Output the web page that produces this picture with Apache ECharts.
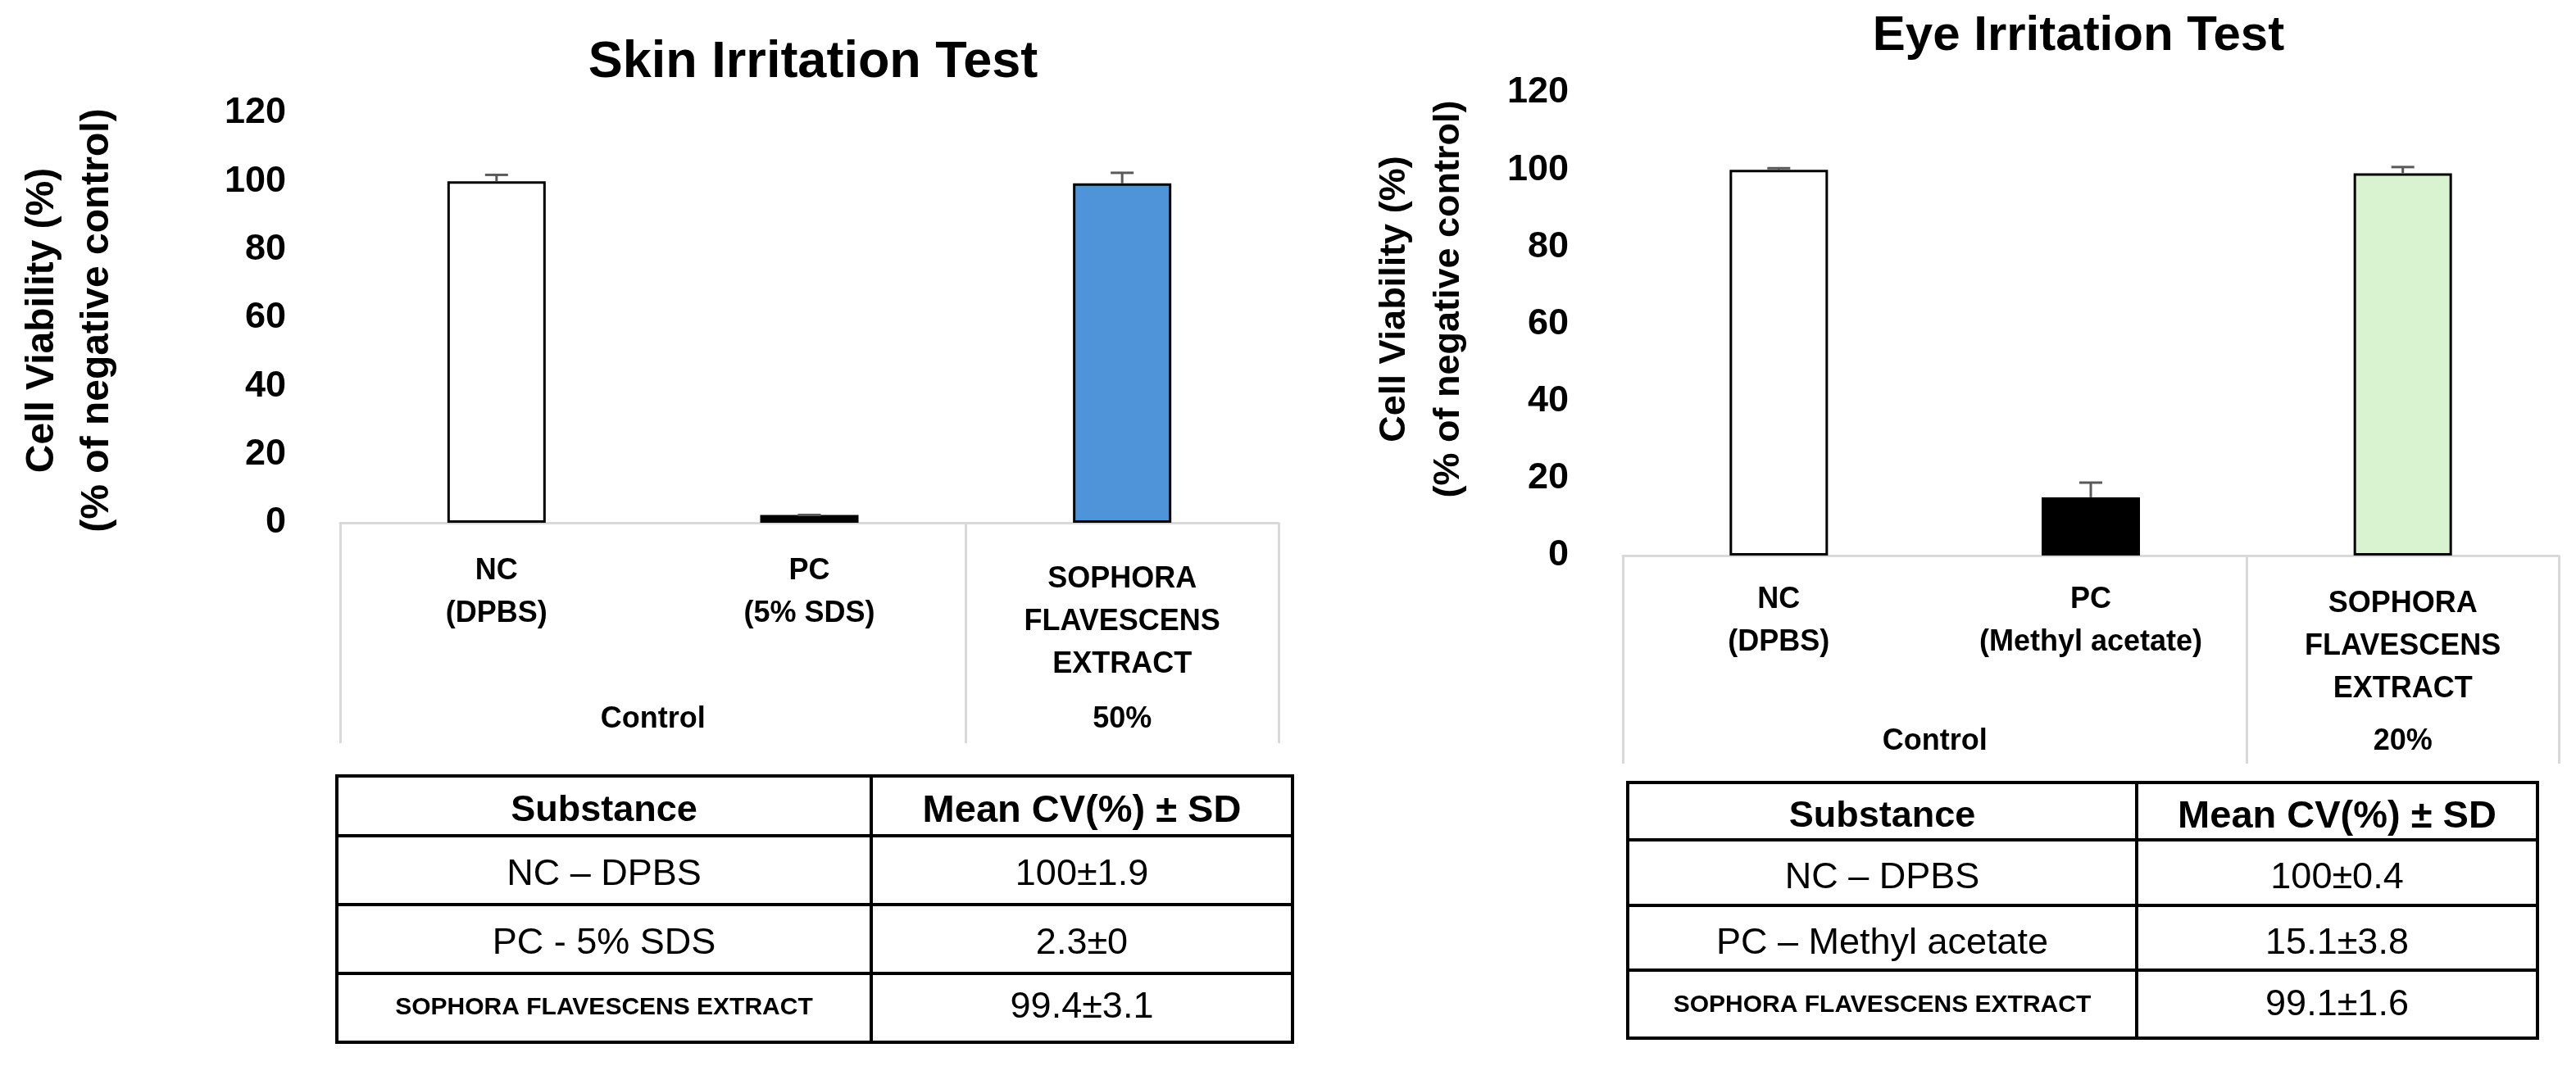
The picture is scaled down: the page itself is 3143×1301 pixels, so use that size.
<!DOCTYPE html>
<html>
<head>
<meta charset="utf-8">
<script src="https://cdn.jsdelivr.net/npm/echarts@6/dist/echarts.min.js"></script>
<style>html,body{margin:0;padding:0;background:#fff}#c{width:3143px;height:1301px}</style>
</head>
<body>
<div id="c"></div>
<script>
// ---------------- data ----------------
const skinTitle = 'Skin Irritation Test';
const eyeTitle = 'Eye Irritation Test';
const skinCategories = ['NC\n(DPBS)', 'PC\n(5% SDS)', 'SOPHORA\nFLAVESCENS\nEXTRACT'];
const eyeCategories = ['NC\n(DPBS)', 'PC\n(Methyl acetate)', 'SOPHORA\nFLAVESCENS\nEXTRACT'];
const skinGroups = ['Control', '50%'];
const eyeGroups = ['Control', '20%'];
const groupSpans = [2, 1];
const skinMeans = [100, 2.3, 99.4];
const skinSD = [1.9, 0, 3.1];
const eyeMeans = [100, 15.1, 99.1];
const eyeSD = [0.4, 3.8, 1.6];
const yTicks = [0, 20, 40, 60, 80, 100, 120];
const yAxisTitle = ['Cell Viability (%)', '(% of negative control)'];
const tableHeader = ['Substance', 'Mean CV(%) ± SD'];
const skinTableSubstances = ['NC – DPBS', 'PC - 5% SDS', 'SOPHORA FLAVESCENS EXTRACT'];
const skinTableValues = ['100±1.9', '2.3±0', '99.4±3.1'];
const eyeTableSubstances = ['NC – DPBS', 'PC – Methyl acetate', 'SOPHORA FLAVESCENS EXTRACT'];
const eyeTableValues = ['100±0.4', '15.1±3.8', '99.1±1.6'];

// ---------------- layout / style ----------------
const FONT = '"Liberation Sans", Arial, sans-serif';
const GRAY = '#d9d9d9';
const panels = [
  { title: skinTitle, titleX: 992, titleTop: 45, titleSize: 63,
    grid: { left: 415, top: 138, width: 1145, height: 500 },
    categories: skinCategories, groups: skinGroups, means: skinMeans, sd: skinSD,
    fills: ['#ffffff', '#000000', '#4F94D9'],
    labelMargin: 33, threeLinePad: 10, groupMargin: 214, tickLen: 269,
    yTitleX: 85, yTitleY: 391, yTitleSize: 48, yTitleLH: 67 },
  { title: eyeTitle, titleX: 2536, titleTop: 14, titleSize: 60,
    grid: { left: 1980, top: 113, width: 1142, height: 565 },
    categories: eyeCategories, groups: eyeGroups, means: eyeMeans, sd: eyeSD,
    fills: ['#ffffff', '#000000', '#D9F2D0'],
    labelMargin: 28, threeLinePad: 5, groupMargin: 201, tickLen: 254,
    yTitleX: 1735, yTitleY: 365, yTitleSize: 45, yTitleLH: 66 }
];
const tables = [
  { x: [411, 1063, 1577], y: [947, 1020, 1104, 1188, 1272], textY: [990, 1068, 1152, 1230],
    substances: skinTableSubstances, values: skinTableValues },
  { x: [1986, 2607, 3096], y: [955, 1025, 1105, 1184, 1267], textY: [997, 1072, 1152, 1227],
    substances: eyeTableSubstances, values: eyeTableValues }
];

const option = {
  backgroundColor: '#ffffff',
  animation: false,
  title: [], grid: [], xAxis: [], yAxis: [], series: [], graphic: []
};

panels.forEach(function (p, pi) {
  option.title.push({
    text: p.title, left: p.titleX, top: p.titleTop, textAlign: 'center', padding: 0,
    textStyle: { fontFamily: FONT, fontWeight: 'bold', fontSize: p.titleSize, color: '#000' }
  });
  option.grid.push(Object.assign({ containLabel: false }, p.grid));

  // category axis (first level)
  option.xAxis.push({
    type: 'category', gridIndex: pi, boundaryGap: true,
    data: p.categories.map(function (c) {
      const lines = c.split('\n').length;
      return lines > 2 ? { value: c, textStyle: { padding: [p.threeLinePad, 0, 0, 0] } } : c;
    }),
    axisLine: { show: true, lineStyle: { color: GRAY, width: 3 } },
    axisTick: { show: true, length: p.tickLen, interval: function (i) { return i !== 1; },
      lineStyle: { color: GRAY, width: 3 } },
    axisLabel: { show: true, interval: 0, margin: p.labelMargin, fontFamily: FONT, fontWeight: 'bold',
      fontSize: 36, lineHeight: 52, color: '#000' },
    splitLine: { show: false }
  });
  // group axis (second level)
  let acc = 0;
  const centers = groupSpans.map(function (s) { const c = acc + s / 2; acc += s; return c; });
  option.xAxis.push({
    type: 'value', gridIndex: pi, min: 0, max: p.categories.length, position: 'bottom',
    axisLine: { show: false }, axisTick: { show: false }, splitLine: { show: false },
    axisLabel: { show: true, customValues: centers, margin: p.groupMargin,
      formatter: function (v) { const k = centers.indexOf(v); return k >= 0 ? p.groups[k] : ''; },
      fontFamily: FONT, fontWeight: 'bold', fontSize: 36, lineHeight: 52, color: '#000' }
  });
  option.yAxis.push({
    type: 'value', gridIndex: pi, min: yTicks[0], max: yTicks[yTicks.length - 1],
    interval: yTicks[1] - yTicks[0],
    axisLine: { show: false }, axisTick: { show: false }, splitLine: { show: false },
    axisLabel: { margin: 66, fontFamily: FONT, fontWeight: 'bold', fontSize: 45, color: '#000' }
  });

  option.series.push({
    type: 'bar', xAxisIndex: pi * 2, yAxisIndex: pi, barWidth: 120, z: 2,
    data: p.means.map(function (v, i) {
      return { value: v, itemStyle: { color: p.fills[i], borderColor: '#000', borderWidth: 3 } };
    })
  });
  option.series.push({
    type: 'custom', xAxisIndex: pi * 2, yAxisIndex: pi, z: 5,
    encode: { x: 0, y: 1 },
    data: p.means.map(function (v, i) { return [i, v, p.sd[i]]; }),
    renderItem: function (params, api) {
      const x = api.value(0), v = api.value(1), s = api.value(2);
      const a = api.coord([x, v]);
      const b = api.coord([x, v + s]);
      const st = { stroke: '#595959', lineWidth: 3 };
      return { type: 'group', children: [
        { type: 'line', shape: { x1: a[0], y1: a[1], x2: b[0], y2: b[1] }, style: st },
        { type: 'line', shape: { x1: b[0] - 14, y1: b[1], x2: b[0] + 14, y2: b[1] }, style: st }
      ] };
    }
  });

  option.graphic.push({
    type: 'text', x: p.yTitleX, y: p.yTitleY, rotation: Math.PI / 2,
    style: { text: yAxisTitle.join('\n'), fill: '#000', font: 'bold ' + p.yTitleSize + 'px ' + FONT,
      lineHeight: p.yTitleLH, align: 'center', verticalAlign: 'middle',
      textAlign: 'center', textVerticalAlign: 'middle' }
  });
});

tables.forEach(function (t) {
  const lw = 4;
  t.y.forEach(function (yy) {
    option.graphic.push({ type: 'line', shape: { x1: t.x[0] - 2, y1: yy, x2: t.x[2] + 2, y2: yy },
      style: { stroke: '#000', lineWidth: lw } });
  });
  t.x.forEach(function (xx) {
    option.graphic.push({ type: 'line', shape: { x1: xx, y1: t.y[0], x2: xx, y2: t.y[t.y.length - 1] },
      style: { stroke: '#000', lineWidth: lw } });
  });
  const c0 = (t.x[0] + t.x[1]) / 2, c1 = (t.x[1] + t.x[2]) / 2;
  function txt(x, y, s, font) {
    option.graphic.push({ type: 'text', x: x, y: y,
      style: { text: s, fill: '#000', font: font, align: 'center', verticalAlign: 'middle',
        textAlign: 'center', textVerticalAlign: 'middle' } });
  }
  txt(c0, t.textY[0], tableHeader[0], 'bold 45px ' + FONT);
  txt(c1, t.textY[0], tableHeader[1], 'bold 47px ' + FONT);
  t.substances.forEach(function (s, i) {
    const small = i === t.substances.length - 1;
    txt(c0, t.textY[i + 1], s, small ? 'bold 30px ' + FONT : '45px ' + FONT);
    txt(c1, t.textY[i + 1], t.values[i], '45px ' + FONT);
  });
});

const chart = echarts.init(document.getElementById('c'), null, { renderer: 'canvas', width: 3143, height: 1301 });
chart.setOption(option);
</script>
</body>
</html>
